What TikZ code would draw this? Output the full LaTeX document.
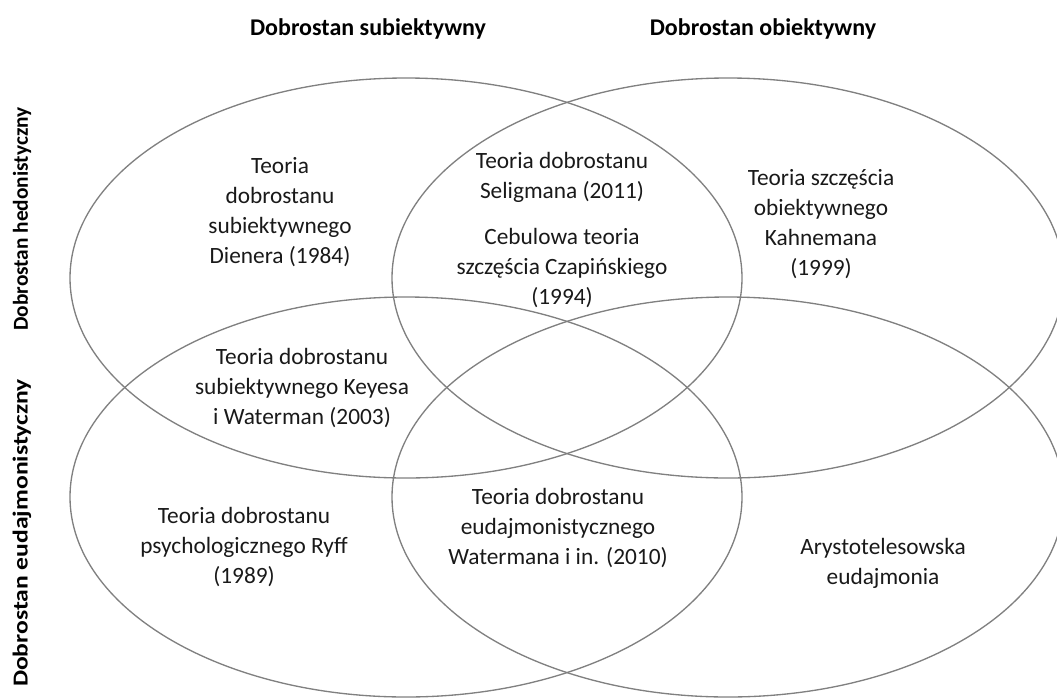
\documentclass[tikz,border=0pt]{standalone}
\usepackage{fontspec}
\setmainfont{Carlito}
\definecolor{vgray}{RGB}{128,128,128}
\definecolor{txtc}{RGB}{25,25,25}
\begin{document}
\begin{tikzpicture}[x=0.75pt,y=-0.75pt,
  venn/.style={draw=vgray, line width=1.0pt},
  txt/.style={align=center, font=\fontsize{17.5}{22.5}\selectfont, text=txtc, inner sep=0pt},
  head/.style={font=\bfseries\fontsize{18}{22}\selectfont, text=black, inner sep=0pt},
  side/.style={font=\bfseries\fontsize{16}{20}\selectfont, text=black, inner sep=0pt, rotate=90}
]
\useasboundingbox (0,0) rectangle (1057,697);
\begin{scope}
  \clip (0,0) rectangle (1057,697);
  \draw[venn] (406,278) ellipse [x radius=336, y radius=200];
  \draw[venn] (728,278) ellipse [x radius=336, y radius=200];
  \draw[venn] (406,497) ellipse [x radius=336, y radius=200];
  \draw[venn] (728,497) ellipse [x radius=336, y radius=200];
\end{scope}

\node[head] (hsub) at (368,29) {Dobrostan subiektywny};
\node[head] (hobj) at (763,29) {Dobrostan obiektywny};
\node[side] (lhed) at (22,219) {Dobrostan hedonistyczny};
\node[side] (leud) at (22,533) {\scalebox{1.2}[1]{Dobrostan eudajmonistyczny}};

\node[txt] (diener) at (280,212) {Teoria\\dobrostanu\\subiektywnego\\Dienera (1984)};
\node[txt] (selig) at (562,177) {Teoria dobrostanu\\Seligmana (2011)};
\node[txt] (czap) at (562,268) {Cebulowa teoria\\szczęścia Czapińskiego\\(1994)};
\node[txt] (kahn) at (821,224) {Teoria szczęścia\\obiektywnego\\Kahnemana\\(1999)};
\node[txt] (keyes) at (302,388) {Teoria dobrostanu\\subiektywnego Keyesa\\i Waterman (2003)};
\node[txt] (ryff) at (244,547) {Teoria dobrostanu\\psychologicznego Ryff\\(1989)};
\node[txt] (water) at (558,528) {Teoria dobrostanu\\eudajmonistycznego\\Watermana i in. (2010)};
\node[txt] (arys) at (883,563) {Arystotelesowska\\eudajmonia};
\end{tikzpicture}
\end{document}
